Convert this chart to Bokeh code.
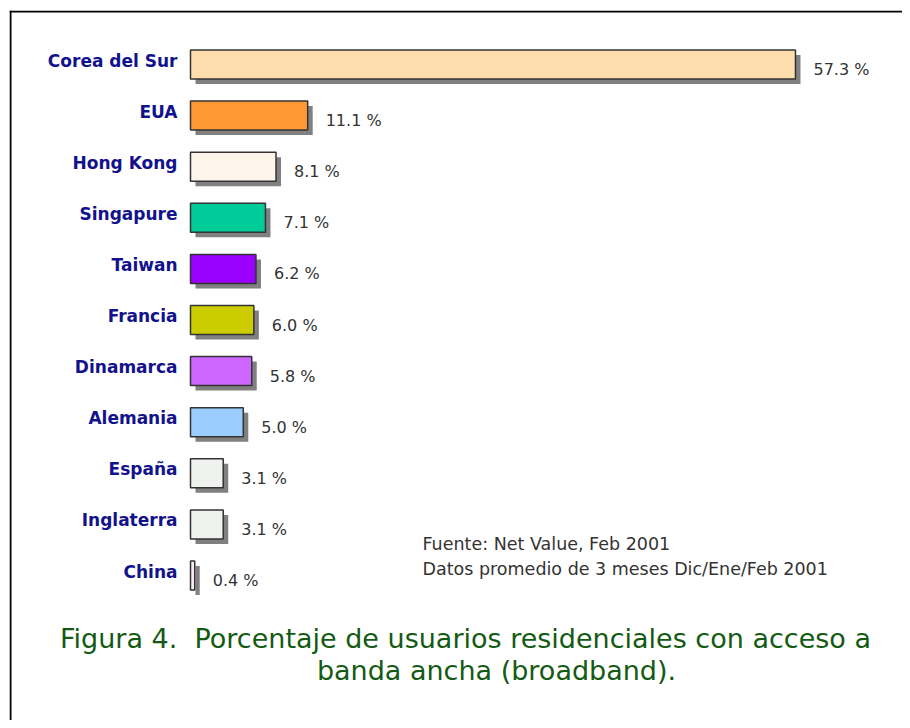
import numpy as np
from bokeh.plotting import figure
from bokeh.models import ColumnDataSource, Span, Range1d
from bokeh.transform import dodge
from bokeh.core.properties import value
from bokeh.embed import file_html
from bokeh.resources import INLINE

# ---------------- data ----------------
countries = ["Corea del Sur", "EUA", "Hong Kong", "Singapure", "Taiwan", "Francia",
             "Dinamarca", "Alemania", "España", "Inglaterra", "China"]
percent = [57.3, 11.1, 8.1, 7.1, 6.2, 6.0, 5.8, 5.0, 3.1, 3.1, 0.4]
bar_colors = ["#FEDEAD", "#FF9933", "#FEF5EA", "#00CC99", "#9900FF", "#CCCC00",
              "#CC66FF", "#99CCFF", "#F0F2F0", "#F0F2F0", "#F9E8F9"]
source_lines = ["Fuente: Net Value, Feb 2001",
                "Datos promedio de 3 meses Dic/Ene/Feb 2001"]
caption_lines = ["Figura 4.\u00a0 Porcentaje de usuarios residenciales con acceso a",
                 "banda ancha (broadband)."]

# ---------------- layout (image pixels -> data units) ----------------
W, H = 902, 720
PX_PER_PCT = 10.558      # horizontal pixels per percent
ROW_PX = 51.1            # vertical pixels per row
ORIGIN_X = 190           # x of the bars' base
FIRST_ROW_Y = 64         # y of the first row
FRAME_L, FRAME_T = 9, 10  # frame left/top in canvas pixels


def dx(px):
    return (px - ORIGIN_X) / PX_PER_PCT


def dy(py):
    return (FIRST_ROW_Y - py) / ROW_PX


rows = -np.arange(len(countries), dtype=float)
src = ColumnDataSource(dict(
    country=countries,
    pct=percent,
    y=rows,
    zero=[0.0] * len(countries),
    color=bar_colors,
    label=[f"{v:.1f} %" for v in percent],
))

p = figure(width=W, height=H, output_backend="svg", toolbar_location=None,
           x_range=Range1d(dx(FRAME_L), dx(W)),
           y_range=Range1d(dy(H), dy(FRAME_T)),
           x_axis_location=None, y_axis_location=None,
           min_border_left=FRAME_L, min_border_top=FRAME_T,
           min_border_right=0, min_border_bottom=0,
           background_fill_color="white", border_fill_color="white")
p.outline_line_color = None
p.xgrid.visible = False
p.ygrid.visible = False

BAR_H = 29 / ROW_PX
SH = 5  # shadow offset in px

# shadows
p.hbar(y=dodge("y", -SH / ROW_PX), left=SH / PX_PER_PCT,
       right=dodge("pct", SH / PX_PER_PCT), height=BAR_H, source=src,
       fill_color="#808080", line_color=None)
# bars
p.hbar(y="y", left="zero", right="pct", height=BAR_H, source=src,
       fill_color="color", line_color="#333333", line_width=1.5)

# category labels
p.text(x="zero", y="y", text="country", source=src, x_offset=-13, y_offset=-4,
       text_align="right", text_baseline="middle",
       text_font=value("DejaVu Sans"), text_font_style="bold",
       text_font_size="17px", text_color="#12128C")

# value labels
p.text(x="pct", y="y", text="label", source=src, x_offset=18, y_offset=5,
       text_align="left", text_baseline="middle",
       text_font=value("DejaVu Sans"), text_font_size="16px", text_color="#333333")

# source note
p.text(x=[dx(422), dx(422)], y=[dy(543), dy(568)], text=source_lines,
       text_align="left", text_baseline="middle",
       text_font=value("DejaVu Sans"), text_font_size="17.5px", text_color="#333333")

# caption
p.text(x=[dx(465), dx(496)], y=[dy(638), dy(670)], text=caption_lines,
       text_align="center", text_baseline="middle",
       text_font=value("DejaVu Sans"), text_font_size="27px", text_color="#135A13")

# frame lines (left and top)
p.add_layout(Span(location=dx(10), dimension="height", line_color="black", line_width=2))
p.add_layout(Span(location=dy(11), dimension="width", line_color="black", line_width=2))

open("out.html", "w").write(file_html(p, INLINE))
